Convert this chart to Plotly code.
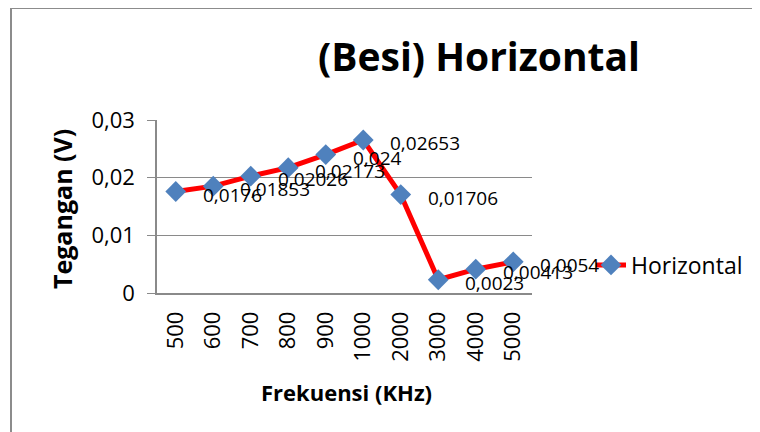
import plotly.graph_objects as go

categories = ["500", "600", "700", "800", "900", "1000", "2000", "3000", "4000", "5000"]
values = [0.0176, 0.01853, 0.02026, 0.02173, 0.024, 0.02653, 0.01706, 0.0023, 0.00413, 0.0054]
y_ticks = [0, 0.01, 0.02, 0.03]
y_tick_labels = ["0", "0,01", "0,02", "0,03"]
series_name = "Horizontal"
title_text = "(Besi) Horizontal"
x_title = "Frekuensi (KHz)"
y_title = "Tegangan (V)"

FONT = "Open Sans"
GRID = "#8a8a8a"
OFF = 8  # browser default body margin

idx = list(range(len(categories)))

fig = go.Figure()
fig.add_trace(go.Scatter(
    x=idx, y=values, mode="lines+markers", name=series_name,
    line=dict(color="#ff0000", width=5),
    marker=dict(symbol="diamond", size=16, color="#4f81bd"),
))

for i, v in zip(idx, values):
    fig.add_annotation(
        x=i, y=v, xref="x", yref="y", text=f"{v}".replace(".", ","),
        showarrow=False, xanchor="left", yanchor="middle", xshift=25, yshift=-3,
        font=dict(family=FONT, size=19, color="#000000"),
    )

# plot area in reference pixels
L, R, T, B = 157, 532, 120, 293
W, H = 760, 432
pw, ph = R - L, B - T

def px(xp):
    return (xp - L) / pw

def py(yp):
    return (B - yp) / ph

fig.add_annotation(
    x=px(62), y=py(209), xref="paper", yref="paper", text=f"<b>{y_title}</b>",
    textangle=-90, showarrow=False, xanchor="center", yanchor="middle",
    font=dict(family=FONT, size=25, color="#000000"),
)
fig.add_annotation(
    x=px(346), y=py(392), xref="paper", yref="paper", text=f"<b>{x_title}</b>",
    showarrow=False, xanchor="center", yanchor="middle",
    font=dict(family=FONT, size=22, color="#000000"),
)

# chart area border
fig.add_shape(type="line", xref="paper", yref="paper",
              x0=px(11), x1=px(11), y0=py(8), y1=py(450),
              line=dict(color="#8c8c8c", width=2))
fig.add_shape(type="line", xref="paper", yref="paper",
              x0=px(11), x1=px(790), y0=py(8), y1=py(8),
              line=dict(color="#8c8c8c", width=2))

fig.update_layout(
    width=W, height=H, autosize=False,
    margin=dict(l=L - OFF, r=W - (R - OFF), t=T - OFF, b=H - (B - OFF), pad=0),
    paper_bgcolor="#ffffff", plot_bgcolor="#ffffff",
    font=dict(family=FONT, color="#000000"),
    title=dict(text=f"<b>{title_text}</b>", x=(479 - OFF) / W, xanchor="center",
               y=1 - (57 - OFF) / H, yanchor="middle", yref="container",
               font=dict(family=FONT, size=39, color="#000000")),
    showlegend=True,
    legend=dict(x=px(591), y=py(265), xanchor="left", yanchor="middle",
                font=dict(family=FONT, size=23, color="#000000"),
                bgcolor="rgba(0,0,0,0)"),
    xaxis=dict(range=[-0.5, len(categories) - 0.5], tickvals=idx, ticktext=categories,
               showline=True, linecolor=GRID, linewidth=1.5,
               showgrid=False, zeroline=False, tickangle=-90, ticks="", ticklabelstandoff=8,
               tickfont=dict(family=FONT, size=22, color="#000000")),
    yaxis=dict(range=[0, 0.03], tickvals=y_ticks, ticktext=y_tick_labels,
               showgrid=True, gridcolor=GRID, gridwidth=1.2,
               showline=True, linecolor=GRID, linewidth=1.5,
               ticks="outside", ticklen=8, tickcolor=GRID, ticklabelstandoff=8,
               zeroline=False,
               tickfont=dict(family=FONT, size=22, color="#000000")),
)

fig.write_html("out.html")
